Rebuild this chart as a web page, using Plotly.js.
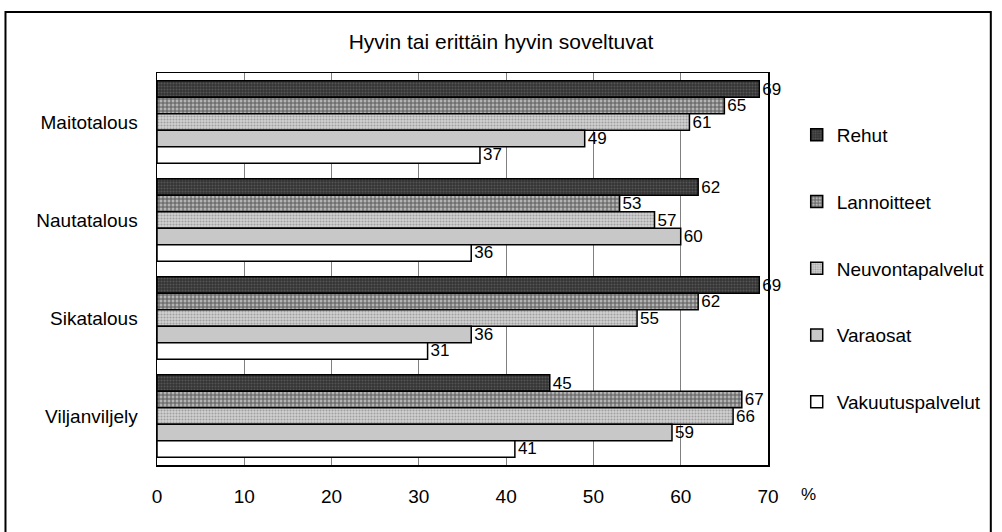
<!DOCTYPE html>
<html>
<head>
<meta charset="utf-8">
<script src="https://cdn.plot.ly/plotly-3.0.1.min.js"></script>
<style>
  html, body { margin: 0; padding: 0; background: #fff; }
  #chart { width: 1002px; height: 532px; }
</style>
</head>
<body>
<div id="chart"></div>
<script>
const categories = ["Maitotalous", "Nautatalous", "Sikatalous", "Viljanviljely"];
const seriesNames = ["Rehut", "Lannoitteet", "Neuvontapalvelut", "Varaosat", "Vakuutuspalvelut"];
const rehut = [69, 62, 69, 45];
const lannoitteet = [65, 53, 62, 67];
const neuvontapalvelut = [61, 57, 55, 66];
const varaosat = [49, 60, 36, 59];
const vakuutuspalvelut = [37, 36, 31, 41];
const xTicks = [0, 10, 20, 30, 40, 50, 60, 70];

const seriesValues = [rehut, lannoitteet, neuvontapalvelut, varaosat, vakuutuspalvelut];
const styles = [
  {color: "#3a3a3a", pattern: {shape: ".", fgcolor: "#555555", bgcolor: "#333333", size: 3, solidity: 0.4}},
  {color: "#8c8c8c", pattern: {shape: "+", fgcolor: "#5a5a5a", bgcolor: "#b4b4b4", size: 4, solidity: 0.45}},
  {color: "#c4c4c4", pattern: {shape: ".", fgcolor: "#a0a0a0", bgcolor: "#d2d2d2", size: 3, solidity: 0.4}},
  {color: "#c8c8c8", pattern: {shape: ""}},
  {color: "#ffffff", pattern: {shape: ""}}
];

const FONT = "Liberation Sans, Arial, sans-serif";

const traces = seriesNames.map((name, i) => ({
  type: "bar",
  orientation: "h",
  name: name,
  legendgroup: name,
  y: categories,
  x: seriesValues[i],
  text: seriesValues[i].map(String),
  textposition: "outside",
  constraintext: "none",
  textfont: {family: FONT, size: 17, color: "#000"},
  cliponaxis: false,
  marker: {
    color: styles[i].color,
    pattern: styles[i].pattern,
    line: {color: "#000", width: 1.5}
  },
  hoverinfo: "x+y+name"
}));

const L = 157, R = 774, T = 73, B = 465;
const W = 1002, H = 532;
const pw = R - L, ph = B - T;
function px2x(p) { return (p - L) / pw; }
function px2y(p) { return (B - p) / ph; }

const layout = {
  width: W, height: H,
  margin: {l: L, r: W - R, t: T, b: H - B, pad: 0},
  paper_bgcolor: "#fff",
  plot_bgcolor: "#fff",
  font: {family: FONT, size: 19, color: "#000"},
  title: {
    text: "Hyvin tai erittäin hyvin soveltuvat",
    x: 0.5, xref: "container", xanchor: "center",
    y: 1 - 42 / H, yref: "container", yanchor: "middle",
    font: {size: 21, color: "#000"}
  },
  barmode: "group",
  bargap: 0.16,
  bargroupgap: 0,
  xaxis: {
    range: [0, 70],
    tickvals: xTicks,
    ticktext: xTicks.map(String),
    showgrid: true,
    gridcolor: "#808080",
    gridwidth: 1,
    zeroline: false,
    showline: true,
    linecolor: "#000",
    linewidth: 1.5,
    mirror: true,
    ticks: "",
    ticklabelstandoff: 14,
    tickfont: {size: 19}
  },
  yaxis: {
    autorange: "reversed",
    showgrid: false,
    zeroline: false,
    showline: true,
    linecolor: "#000",
    linewidth: 1.5,
    mirror: true,
    ticks: "",
    ticklabelstandoff: 14,
    tickfont: {size: 19}
  },
  legend: {
    x: px2x(803), xref: "paper", xanchor: "left",
    y: px2y(116), yanchor: "top",
    font: {size: 19},
    traceorder: "grouped",
    tracegroupgap: 39,
    bgcolor: "rgba(0,0,0,0)"
  },
  annotations: [{
    text: "%", xref: "paper", yref: "paper",
    x: px2x(815), y: px2y(495), xanchor: "center", yanchor: "middle",
    showarrow: false, font: {size: 17}
  }],
  shapes: [{
    type: "rect", xref: "paper", yref: "paper",
    x0: px2x(4), x1: px2x(999), y0: px2y(536), y1: px2y(12),
    line: {color: "#000", width: 2}, fillcolor: "rgba(0,0,0,0)", layer: "below"
  }]
};

Plotly.newPlot("chart", traces, layout, {displayModeBar: false, staticPlot: true});
</script>
</body>
</html>
